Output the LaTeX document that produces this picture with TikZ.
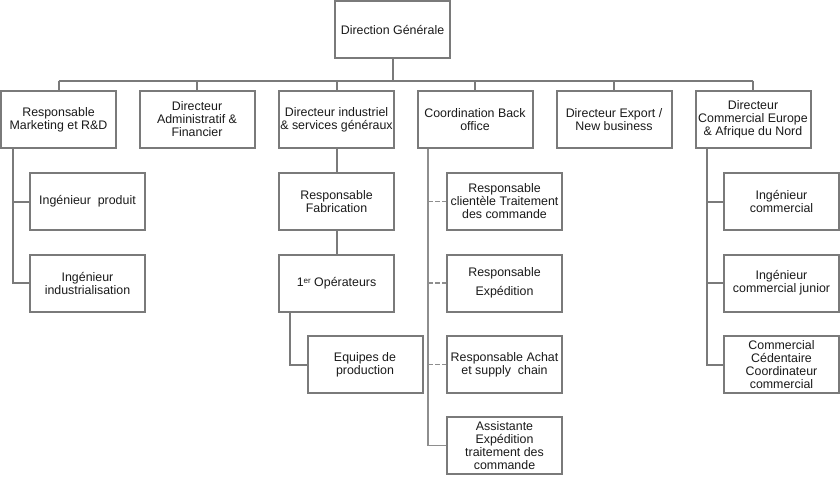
\documentclass[tikz,border=0pt]{standalone}
\usepackage{fontspec}
\setmainfont{Liberation Sans}
\usetikzlibrary{calc}
\definecolor{ln}{HTML}{7A7A7A}
\definecolor{txt}{HTML}{1A1A1A}
\begin{document}
\begin{tikzpicture}[x=1pt,y=-1pt,
  orgbox/.style={draw=ln,line width=2pt,fill=white,minimum width=115pt,minimum height=57pt,
    inner sep=0pt,align=center,text=txt,font=\fontsize{12.4}{13}\selectfont},
  link/.style={draw=ln,line width=2pt},
  thinlink/.style={draw=ln!85,line width=1.4pt},
  dashlink/.style={draw=ln!85,line width=1.4pt,dash pattern=on 4.5pt off 2.5pt}]
\useasboundingbox[fill=white] (0,0) rectangle (840,484);
% top
\node[orgbox] (dg) at (392.5,29.5) {Direction Générale};
% level 1
\node[orgbox] (m1) at (58.5,119.5) {Responsable\\Marketing et R\&D};
\node[orgbox] (m2) at (197,119.5) {Directeur\\Administratif \&\\Financier};
\node[orgbox] (m3) at (336.5,119.5) {Directeur industriel\\\& services généraux};
\node[orgbox] (m4) at (475,119.5) {Coordination Back\\office};
\node[orgbox] (m5) at (614,119.5) {Directeur Export /\\New business};
\node[orgbox] (m6) at (753,119.5) {Directeur\\Commercial Europe\\\& Afrique du Nord};
% under m1
\node[orgbox] (ip) at (87.5,201.5) {Ingénieur\ \ produit};
\node[orgbox] (ii) at (87.5,283) {Ingénieur\\industrialisation};
% under m3
\node[orgbox] (rf) at (336.5,201.5) {Responsable\\Fabrication};
\node[orgbox] (op) at (336.5,283) {1\raisebox{2.5pt}{\fontsize{8}{8}\selectfont er} Opérateurs};
\node[orgbox] (ep) at (365,364.5) {Equipes de\\production};
% under m4
\node[orgbox] (rc) at (504.5,201.5) {Responsable\\clientèle Traitement\\des commande};
\node[orgbox] (re) at (504.5,283) {Responsable\\[6pt]Expédition};
\node[orgbox] (ra) at (504.5,364.5) {Responsable Achat\\et supply\ \ chain};
\node[orgbox] (aa) at (504.5,445.5) {Assistante\\Expédition\\traitement des\\commande};
% under m6
\node[orgbox] (ic) at (781.5,201.5) {Ingénieur\\commercial};
\node[orgbox] (icj) at (781.5,283) {Ingénieur\\commercial junior};
\node[orgbox] (cc) at (781.5,364.5) {Commercial\\Cédentaire\\Coordinateur\\commercial};
% bus
\coordinate (b) at ($(dg.south)+(0,22)$);
\draw[link] (dg.south) -- (b);
\draw[link] (b -| m1.north) -- (b -| m6.north);
\foreach \n in {m1,m2,m3,m4,m5,m6} \draw[link] (b -| \n.north) -- (\n.north);
% m1 children
\coordinate (c1) at ($(m1.south west)+(12.5,0)$);
\draw[link] (c1) |- (ip.west);
\draw[link] (c1) |- (ii.west);
% m3 children
\draw[link] (m3.south) -- (rf.north);
\draw[link] (rf.south) -- (op.north);
\coordinate (c3) at ($(op.south west)+(12,0)$);
\draw[link] (c3) |- (ep.west);
% m4 children
\coordinate (c4) at ($(m4.south west)+(11.5,0)$);
\draw[thinlink] (c4) |- (aa.west);
\draw[dashlink] (c4 |- rc.west) -- (rc.west);
\draw[dashlink] (c4 |- re.west) -- (re.west);
\draw[dashlink] (c4 |- ra.west) -- (ra.west);
% m6 children
\coordinate (c6) at ($(m6.south west)+(12.5,0)$);
\draw[link] (c6) |- (ic.west);
\draw[link] (c6) |- (icj.west);
\draw[link] (c6) |- (cc.west);
\end{tikzpicture}
\end{document}
